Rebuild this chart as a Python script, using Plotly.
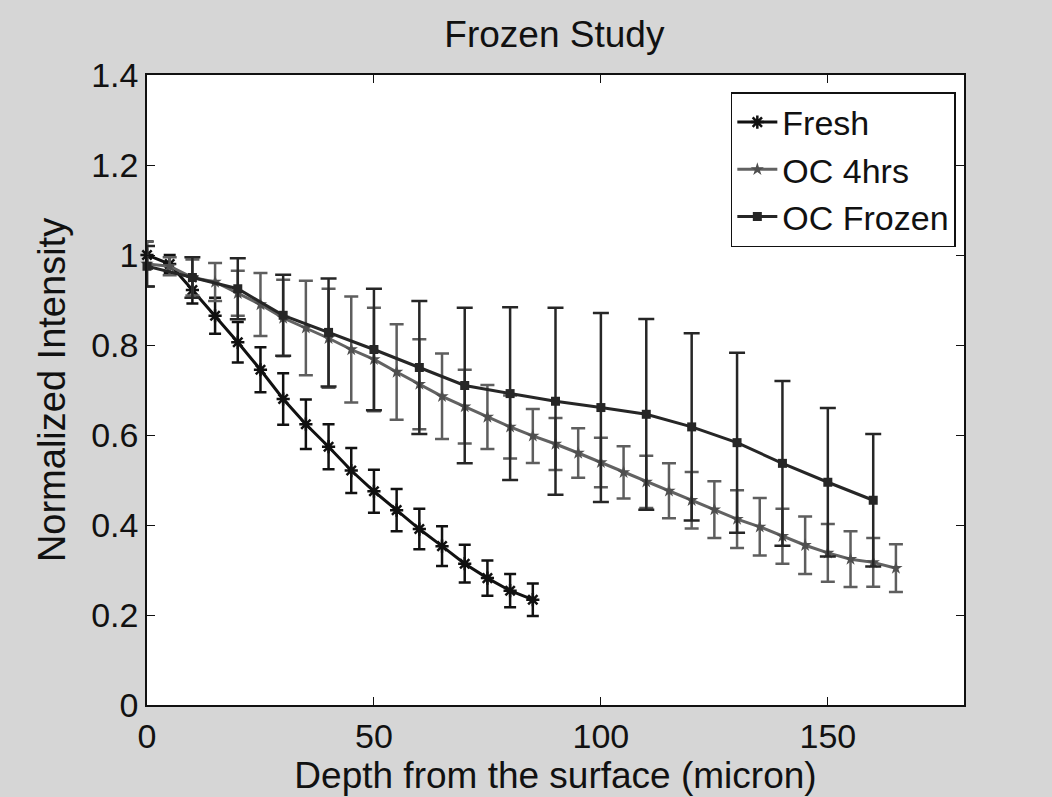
import plotly.graph_objects as go

# ---- data ----
fresh_x = [0, 5, 10, 15, 20, 25, 30, 35, 40, 45, 50, 55, 60, 65, 70, 75, 80, 85]
fresh_y = [1.0, 0.98, 0.922, 0.865, 0.806, 0.745, 0.68, 0.624, 0.574, 0.521, 0.475,
           0.433, 0.391, 0.353, 0.314, 0.282, 0.254, 0.234]
fresh_err = [0.03, 0.02, 0.03, 0.04, 0.045, 0.05, 0.057, 0.055, 0.05, 0.05, 0.048,
             0.047, 0.045, 0.044, 0.042, 0.039, 0.037, 0.036]

oc4_x = [0, 5, 10, 15, 20, 25, 30, 35, 40, 45, 50, 55, 60, 65, 70, 75, 80, 85, 90,
         95, 100, 105, 110, 115, 120, 125, 130, 135, 140, 145, 150, 155, 160, 165]
oc4_y = [0.98, 0.975, 0.95, 0.94, 0.915, 0.89, 0.86, 0.838, 0.815, 0.79, 0.768, 0.74,
         0.713, 0.686, 0.663, 0.64, 0.618, 0.598, 0.58, 0.56, 0.539, 0.517, 0.496,
         0.476, 0.455, 0.434, 0.413, 0.396, 0.375, 0.355, 0.338, 0.324, 0.317, 0.304]
oc4_err = [0.05, 0.02, 0.04, 0.042, 0.05, 0.07, 0.085, 0.105, 0.11, 0.118, 0.115,
           0.106, 0.1, 0.095, 0.082, 0.071, 0.07, 0.06, 0.058, 0.055, 0.055, 0.058,
           0.058, 0.061, 0.063, 0.063, 0.064, 0.064, 0.061, 0.064, 0.064, 0.062,
           0.054, 0.053]

froz_x = [0, 10, 20, 30, 40, 50, 60, 70, 80, 90, 100, 110, 120, 130, 140, 150, 160]
froz_y = [0.975, 0.95, 0.925, 0.866, 0.828, 0.79, 0.75, 0.71, 0.692, 0.675, 0.661,
          0.646, 0.618, 0.583, 0.537, 0.495, 0.455]
froz_err = [0.045, 0.045, 0.068, 0.09, 0.12, 0.135, 0.148, 0.173, 0.192, 0.208,
            0.21, 0.212, 0.208, 0.2, 0.183, 0.165, 0.147]

x_ticks = [0, 50, 100, 150]
y_ticks = [0, 0.2, 0.4, 0.6, 0.8, 1.0, 1.2, 1.4]
y_tick_text = ["0", "0.2", "0.4", "0.6", "0.8", "1", "1.2", "1.4"]

FONT = "Liberation Sans, Arial, sans-serif"

fig = go.Figure()

fig.add_trace(go.Scatter(
    x=fresh_x, y=fresh_y, name="Fresh", mode="lines+markers",
    line=dict(color="#111111", width=3),
    marker=dict(symbol="asterisk", size=11, color="#111111",
                line=dict(color="#111111", width=2.5)),
    error_y=dict(type="data", array=fresh_err, visible=True,
                 color="#111111", thickness=2.5, width=6),
    cliponaxis=False,
))
fig.add_trace(go.Scatter(
    x=oc4_x, y=oc4_y, name="OC 4hrs", mode="lines+markers",
    line=dict(color="#626262", width=3),
    marker=dict(symbol="star", size=10, color="#4f4f4f"),
    error_y=dict(type="data", array=oc4_err, visible=True,
                 color="#5e5e5e", thickness=2.5, width=7),
    cliponaxis=False,
))
fig.add_trace(go.Scatter(
    x=froz_x, y=froz_y, name="OC Frozen", mode="lines+markers",
    line=dict(color="#262626", width=3),
    marker=dict(symbol="square", size=9, color="#262626"),
    error_y=dict(type="data", array=froz_err, visible=True,
                 color="#262626", thickness=2.5, width=8),
    cliponaxis=False,
))

fig.update_layout(
    width=1052, height=797,
    margin=dict(l=147, r=88, t=75, b=92),
    paper_bgcolor="#d6d6d6",
    plot_bgcolor="#ffffff",
    font=dict(family=FONT, color="#111111", size=34),
    title=dict(text="Frozen Study", x=0.527, xanchor="center", y=0.957,
               yanchor="middle", font=dict(size=37, family=FONT, color="#111111")),
    showlegend=True,
    legend=dict(x=0.99, y=0.973, xanchor="right", yanchor="top",
                bgcolor="#ffffff", bordercolor="#111111", borderwidth=1.5,
                font=dict(size=34, family=FONT, color="#111111"),
                tracegroupgap=0, itemwidth=40),
)

fig.update_xaxes(
    range=[0, 180], tickvals=x_ticks, ticks="inside", ticklen=8,
    tickcolor="#111111", showline=True, linecolor="#111111", linewidth=1.5,
    mirror="ticks", showgrid=False, zeroline=False,
    tickfont=dict(size=34, family=FONT, color="#111111"),
    title=dict(text="Depth from the surface (micron)", standoff=0,
               font=dict(size=37, family=FONT, color="#111111")),
)
fig.update_yaxes(
    range=[0, 1.4], tickvals=y_ticks, ticktext=y_tick_text, ticks="inside",
    ticklen=8, tickcolor="#111111", showline=True, linecolor="#111111",
    linewidth=1.5, mirror="ticks", showgrid=False, zeroline=False,
    tickfont=dict(size=34, family=FONT, color="#111111"),
    title=dict(text="Normalized Intensity", standoff=14,
               font=dict(size=38, family=FONT, color="#111111")),
)

fig.write_html("out.html")
